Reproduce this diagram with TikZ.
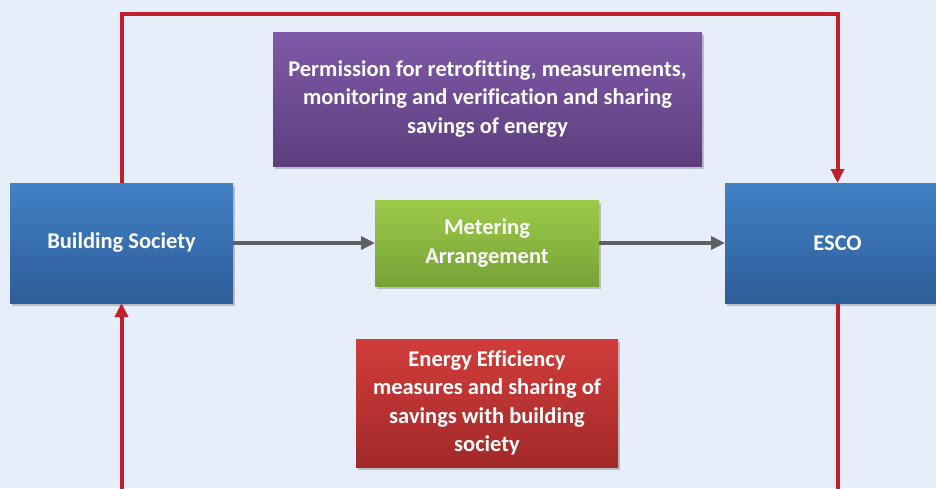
\documentclass[tikz,border=0pt]{standalone}
\usepackage{fontspec}
\setmainfont{Carlito}[Ligatures={NoCommon}]
\usetikzlibrary{shadows,arrows.meta}
\definecolor{bg}{HTML}{E6EEF9}
\definecolor{bluetop}{HTML}{4281C5}
\definecolor{bluebot}{HTML}{2E5D99}
\definecolor{greentop}{HTML}{9DCA4A}
\definecolor{greenbot}{HTML}{76A235}
\definecolor{purptop}{HTML}{7F5AA7}
\definecolor{purpbot}{HTML}{5E3E7F}
\definecolor{redtop}{HTML}{D23D3B}
\definecolor{redbot}{HTML}{A2292A}
\definecolor{redline}{HTML}{C11F2A}
\definecolor{grayline}{HTML}{5F6062}
\begin{document}
\begin{tikzpicture}[x=1pt,y=-1pt,
  box/.style={rectangle, inner sep=0pt, outer sep=0pt, align=center,
    text=white, font=\fontsize{22.5}{28.5}\selectfont\bfseries,
    drop shadow={shadow xshift=1.5pt, shadow yshift=-3pt, opacity=0.35, fill=black!60}},
  redconn/.style={draw=redline, line width=4pt, line join=miter,
    -{Triangle[length=14pt,width=13pt]}},
  grayconn/.style={draw=grayline, line width=4pt,
    -{Triangle[length=14pt,width=13pt]}}]
\clip (0,0) rectangle (936,488);
\fill[bg] (0,0) rectangle (936,488);
\node[box, top color=bluetop, bottom color=bluebot, minimum width=223pt, minimum height=120pt] (bs) at (121.5,243) {Building Society};
\node[box, top color=bluetop, bottom color=bluebot, minimum width=225pt, minimum height=120pt] (esco) at (837.5,243) {ESCO};
\node[box, top color=greentop, bottom color=greenbot, minimum width=224pt, minimum height=86pt] (meter) at (487,243) {Metering\\Arrangement};
\node[box, top color=purptop, bottom color=purpbot, minimum width=429pt, minimum height=134pt] (perm) at (487.5,99) {Permission for retrofitting, measurements,\\monitoring and verification and sharing\\savings of energy};
\node[box, top color=redtop, bottom color=redbot, minimum width=262pt, minimum height=128pt] (eem) at (487,403) {Energy Efficiency\\measures and sharing of\\savings with building\\society};
\coordinate (tl) at (121.5,14);
\coordinate (bl) at (121.5,540);
\draw[redconn] (bs.north) -- (tl) -| (esco.north);
\draw[redconn] (esco.south) |- (bl) -- (bs.south);
\draw[grayconn] (bs.east) -- (meter.west);
\draw[grayconn] (meter.east) -- (esco.west);
\end{tikzpicture}
\end{document}
